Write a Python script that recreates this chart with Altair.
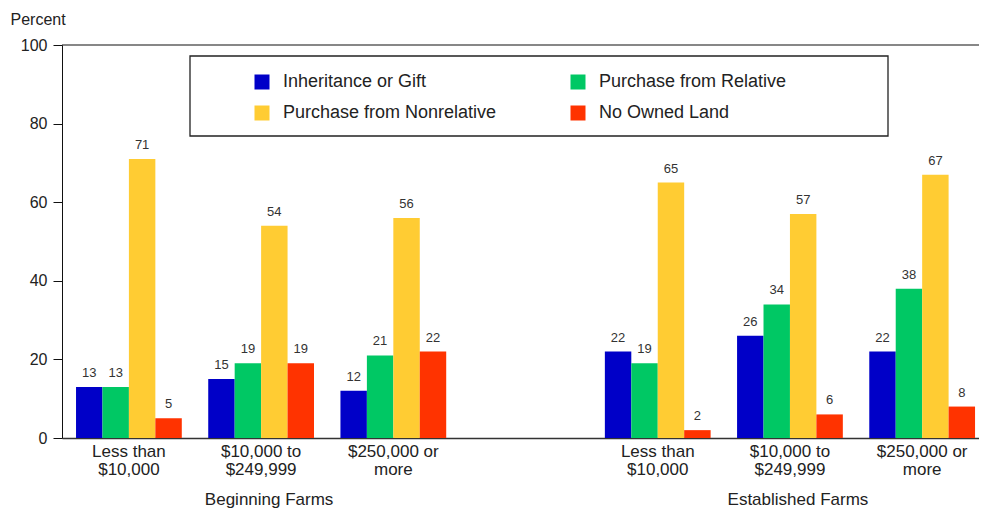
import altair as alt
import pandas as pd

farm_types = ["Beginning Farms", "Established Farms"]
size_labels = ["Less than|$10,000", "$10,000 to|$249,999", "$250,000 or|more"]
series = ["Inheritance or Gift", "Purchase from Relative", "Purchase from Nonrelative", "No Owned Land"]
colors = ["#0000C8", "#00C864", "#FFCC33", "#FF3300"]
beginning = [[13, 13, 71, 5], [15, 19, 54, 19], [12, 21, 56, 22]]
established = [[22, 19, 65, 2], [26, 34, 57, 6], [22, 38, 67, 8]]
y_ticks = [0, 20, 40, 60, 80, 100]

# build slot keys (with an empty spacer slot between the two farm groups)
slots = [f"B|{s}" for s in size_labels] + ["gap|"] + [f"E|{s}" for s in size_labels]
rows = []
for prefix, table in (("B", beginning), ("E", established)):
    for s, vals in zip(size_labels, table):
        for ser, v in zip(series, vals):
            rows.append({"slot": f"{prefix}|{s}", "series": ser, "value": v})
df = pd.DataFrame(rows)
groups = pd.DataFrame({"slot": [slots[1], slots[5]], "label": farm_types})

W, H = 917, 393

x_enc = alt.X(
    "slot:N",
    scale=alt.Scale(domain=slots, paddingInner=0.2, paddingOuter=0.068, align=0.78),
    axis=alt.Axis(labelExpr="slice(split(datum.label, '|'), 1)", title=None),
)
xoff = alt.XOffset("series:N", scale=alt.Scale(domain=series, paddingInner=0, paddingOuter=0))
y_enc = alt.Y(
    "value:Q",
    scale=alt.Scale(domain=[0, 100], nice=False),
    axis=alt.Axis(
        values=y_ticks, title="Percent", titleAngle=0, titleAlign="left",
        titleBaseline="middle", titleX=-52, titleY=-26, titleFontSize=16,
        titleFontWeight="normal", titleColor="#222",
    ),
)

base = alt.Chart(df)

top_rule = alt.Chart(pd.DataFrame({"v": [100]})).mark_rule(color="#111", strokeWidth=1.2).encode(
    y=alt.Y("v:Q", scale=alt.Scale(domain=[0, 100], nice=False))
)

box = alt.Chart(pd.DataFrame({"a": [0]})).mark_rect(
    fill="white", stroke="#222", strokeWidth=1.3
).encode(x=alt.value(128), x2=alt.value(826), y=alt.value(11), y2=alt.value(91))

bars = base.mark_bar().encode(
    x=x_enc,
    xOffset=xoff,
    y=y_enc,
    color=alt.Color(
        "series:N",
        scale=alt.Scale(domain=series, range=colors),
        legend=alt.Legend(
            title=None, orient="none", legendX=191, legendY=28, columns=2,
            direction="horizontal",
            columnPadding=72, rowPadding=13, symbolType="square", symbolSize=225,
            symbolStrokeWidth=0, labelFontSize=18, labelFont="Liberation Sans",
            labelOffset=12, padding=0, labelColor="#222", labelLimit=400,
        ),
    ),
)

labels = base.mark_text(
    fontSize=13, font="Liberation Sans", color="#333", baseline="alphabetic", dy=-10
).encode(x=x_enc, xOffset=xoff, y=y_enc, text="value:Q")

group_titles = alt.Chart(groups).mark_text(
    fontSize=17, font="Liberation Sans", color="#222", baseline="middle", dx=8
).encode(x=x_enc, y=alt.value(H + 62), text="label:N")

chart = alt.layer(top_rule, box, bars, labels, group_titles).properties(
    width=W, height=H,
    autosize=alt.AutoSizeParams(type="none"),
    padding={"left": 54, "top": 37, "right": 0, "bottom": 73},
).configure_view(stroke=None).configure_axisX(
    domainColor="#333", domainWidth=1.5, ticks=False, labelAngle=0,
    labelFontSize=17, labelLineHeight=18, labelPadding=5, labelFont="Liberation Sans",
    labelColor="#222", labelBaseline="top",
).configure_axisY(
    domainColor="#111", tickColor="#111", tickSize=9, labelPadding=6, labelFontSize=16,
    labelFont="Liberation Sans", labelColor="#222", grid=False, titleFont="Liberation Sans",
)

chart.save("out.html", embed_options={"renderer": "svg", "actions": False})
